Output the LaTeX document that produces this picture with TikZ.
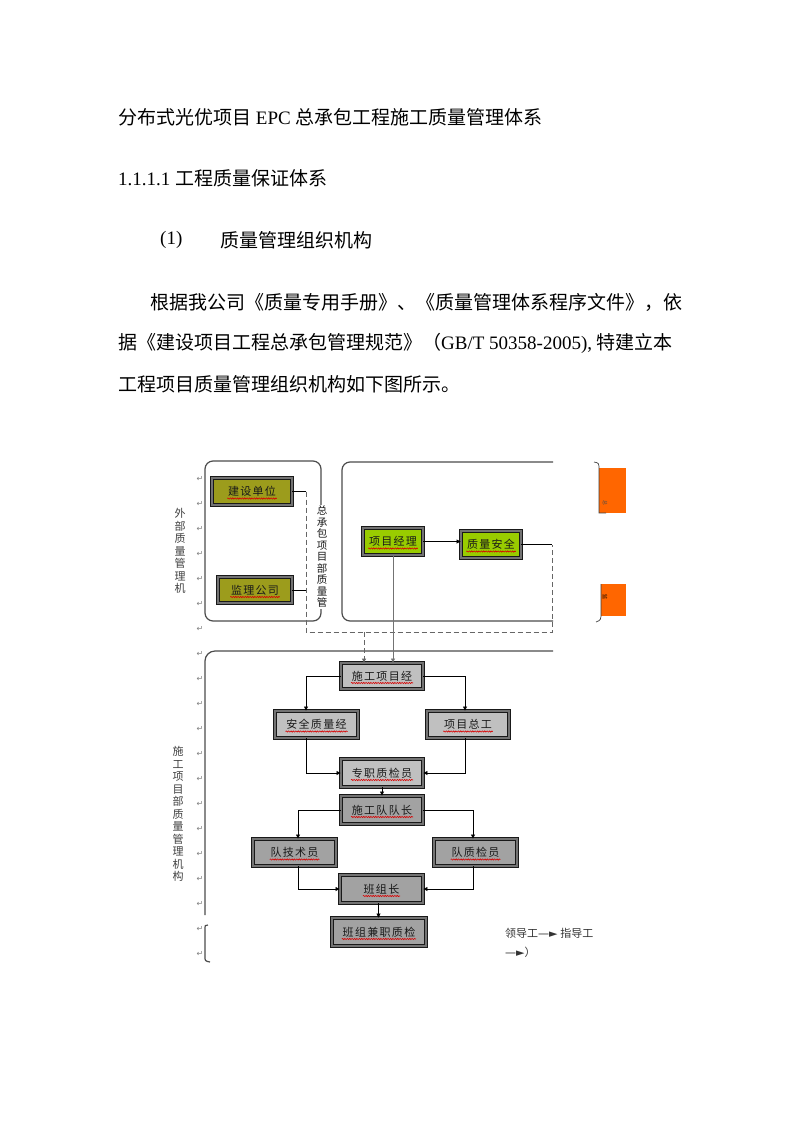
\documentclass[tikz,border=0pt]{standalone}
\usepackage{fontspec}
\setmainfont{Liberation Serif}
\newfontfamily\cjk{Noto Sans CJK SC}
\newfontfamily\cjkbox[LetterSpace=12]{Noto Sans CJK SC}
\newfontfamily\symfont{DejaVu Sans}
\usetikzlibrary{arrows.meta,decorations.pathmorphing}
\definecolor{olivebox}{HTML}{9C9C1C}
\definecolor{limebox}{HTML}{99CC00}
\definecolor{greyA}{HTML}{C0C0C0}
\definecolor{greyB}{HTML}{A2A2A2}
\definecolor{orangebox}{HTML}{FF6600}
\begin{document}
\begin{tikzpicture}[x=1pt,y=-1pt,
    orgbox/.style={draw=black!90, line width=0.9pt, double=black!55, double distance=1.5pt,
      inner sep=0pt, font=\cjkbox\fontsize{11}{11}\selectfont, text=black!90},
    jsbox/.style={orgbox, fill=olivebox},
    xmbox/.style={orgbox, fill=limebox},
    sgbox/.style={orgbox, fill=greyA},
    dbox/.style={orgbox, fill=greyB},
    spell/.style={draw=red!85!black, line width=0.6pt, decorate,
      decoration={snake, amplitude=0.6pt, segment length=2.4pt}},
    regionline/.style={draw=black!70, line width=1.2pt},
    link/.style={draw=black, line width=0.7pt, -{Triangle[length=4pt,width=4pt]}},
    wire/.style={draw=black, line width=0.7pt},
    dashlink/.style={draw=black!60, line width=1pt, dash pattern=on 5pt off 3pt},
    vlabel/.style={font=\cjk\fontsize{11}{12.5}\selectfont, align=center, inner sep=0pt, text=black!75},
    body/.style={anchor=west, inner sep=0pt, font=\fontsize{19}{19}\selectfont},
    pmark/.style={font=\symfont\fontsize{8}{8}\selectfont, text=black!50, inner sep=0pt}
  ]
  \useasboundingbox (0,0) rectangle (793,1122);
  \fill[white] (0,0) rectangle (793,1122);

  % heading and text
  \node[body] (title) at (118,117) {{\cjk 分布式光优项目} EPC {\cjk 总承包工程施工质量管理体系}};
  \node[body] (sec) at (118,178) {1.1.1.1 {\cjk 工程质量保证体系}};
  \node[body] (num) at (160,240) {(1)};
  \node[body] (sub) at (220,240) {\cjk 质量管理组织机构};
  \node[body] (para1) at (150,302) {\cjk 根据我公司《质量专用手册》、《质量管理体系程序文件》，依};
  \node[body] (para2) at (118,343) {{\cjk 据《建设项目工程总承包管理规范》（}GB/T 50358-2005), {\cjk 特建立本}};
  \node[body] (para3) at (118,384) {\cjk 工程项目质量管理组织机构如下图所示。};

  % paragraph marks
  \foreach \k in {0,...,19}
    \node[pmark] (pm\k) at (200,479+25*\k) {↵};

  % regions
  \draw[regionline, rounded corners=8pt] (205,461) rectangle (321,621);
  \draw[regionline, rounded corners=8pt] (553,462) -- (342,462) -- (342,621) -- (553,621);
  \draw[regionline, rounded corners=10pt] (553,651) -- (205,651) -- (205,915);
  \draw[regionline] (208,925) .. controls (205,925) .. (205,930) -- (205,956) .. controls (205,961) .. (210,962);

  % orange pieces
  \fill[orangebox] (599,468) rectangle (626,513);
  \fill[orangebox] (601,584) rectangle (626,616);
  \draw[black!75, line width=0.7pt] (594,462) .. controls (599,463) .. (599,470) -- (599,513) -- (606,513);
  \draw[black!75, line width=0.7pt] (601,584) -- (601,612) .. controls (601,620) .. (596,622);
  \node[rotate=-90, inner sep=0pt, font=\cjk\fontsize{5}{5}\selectfont, text=black!70] (orgA) at (605,503) {总};
  \node[rotate=-90, inner sep=0pt, font=\cjk\fontsize{5}{5}\selectfont, text=black] (orgB) at (605,597) {监};

  % vertical labels
  \node[vlabel] (wbzl) at (180,551) {外\\部\\质\\量\\管\\理\\机};
  \node[vlabel, fill=white, inner sep=1pt, text=black!90, font=\cjk\fontsize{10.5}{11.5}\selectfont] (zcbxm) at (322,557) {总\\承\\包\\项\\目\\部\\质\\量\\管};
  \node[vlabel] (sgxmb) at (178,814) {施\\工\\项\\目\\部\\质\\量\\管\\理\\机\\构};

  % boxes
  \node[jsbox, minimum width=80pt, minimum height=27pt] (jsdw) at (252,491.5) {建设单位};
  \node[jsbox, minimum width=74pt, minimum height=26pt] (jlgs) at (255,590) {监理公司};
  \node[xmbox, minimum width=60pt, minimum height=27pt] (xmjl) at (393,541.5) {项目经理};
  \node[xmbox, minimum width=60pt, minimum height=27pt] (zlaq) at (491,544.5) {质量安全};
  \node[sgbox, minimum width=82pt, minimum height=26pt] (sgxmj) at (382,676) {施工项目经};
  \node[sgbox, minimum width=83pt, minimum height=27pt] (aqzlj) at (316.5,724.5) {安全质量经};
  \node[sgbox, minimum width=82pt, minimum height=27pt] (xmzg) at (468,724.5) {项目总工};
  \node[sgbox, minimum width=82pt, minimum height=28pt] (zzzjy) at (382,773) {专职质检员};
  \node[dbox, minimum width=82pt, minimum height=28pt] (sgddz) at (382,810) {施工队队长};
  \node[dbox, minimum width=83pt, minimum height=27pt] (djsy) at (294.5,852.5) {队技术员};
  \node[dbox, minimum width=83pt, minimum height=27pt] (dzjy) at (475.5,852.5) {队质检员};
  \node[dbox, minimum width=83pt, minimum height=28pt] (bzz) at (381.5,889) {班组长};
  \node[dbox, minimum width=94pt, minimum height=28pt] (bzjz) at (379,932) {班组兼职质检};

  % red wavy underlines
  \foreach \n/\c in {jsdw/4,jlgs/4,xmjl/4,zlaq/4,sgxmj/5,aqzlj/5,xmzg/4,zzzjy/5,sgddz/5,djsy/4,dzjy/4,bzz/3,bzjz/6}
    \draw[spell] ([xshift=-\c*6.2pt, yshift=-7pt]\n.center) -- ([xshift=\c*6.2pt, yshift=-7pt]\n.center);

  % outer connectors
  \coordinate (dashL) at (306,632);
  \coordinate (dashR) at (552,632);
  \draw[wire] (jsdw.east) -- (jsdw.east -| dashL);
  \draw[wire] (jlgs.east) -- (jlgs.east -| dashL);
  \draw[wire] (zlaq.east) -- (zlaq.east -| dashR);
  \draw[dashlink] (jsdw.east -| dashL) -- (dashL) -- (dashR) -- (zlaq.east -| dashR);
  \draw[dashlink, -{Triangle[length=4pt,width=4pt]}] ([xshift=-18pt]sgxmj.north |- dashL) -- ([xshift=-18pt]sgxmj.north);
  \draw[link] (xmjl.east) -- (xmjl.east -| zlaq.west);
  \draw[link, draw=black!55] (xmjl.south) -- (xmjl.south |- sgxmj.north);

  % inner connectors
  \draw[link] (sgxmj.west) -| ([xshift=-10.5pt]aqzlj.north);
  \draw[link] (sgxmj.east) -| ([xshift=-3pt]xmzg.north);
  \draw[link] ([xshift=-10.5pt]aqzlj.south) |- (zzzjy.west);
  \draw[link] ([xshift=-3pt]xmzg.south) |- (zzzjy.east);
  \draw[link] (zzzjy.south) -- (sgddz.north);
  \draw[link] (sgddz.west) -| ([xshift=3.5pt]djsy.north);
  \draw[link] (sgddz.east) -| ([xshift=-2.5pt]dzjy.north);
  \draw[link] ([xshift=3.5pt]djsy.south) |- (bzz.west);
  \draw[link] ([xshift=-2.5pt]dzjy.south) |- (bzz.east);
  \draw[link] ([xshift=-3pt]bzz.south) -- ([xshift=-3pt]bzz.south |- bzjz.north);

  % legend
  \node[anchor=west, inner sep=0pt, font=\fontsize{11}{11}\selectfont, text=black!80] (lgdA) at (505,933) {{\cjk 领导工}{\symfont —►} {\cjk 指导工}};
  \node[anchor=west, inner sep=0pt, font=\fontsize{11}{11}\selectfont, text=black!80] (lgdB) at (505,952) {{\symfont —►}{\cjk ）}};
\end{tikzpicture}
\end{document}
